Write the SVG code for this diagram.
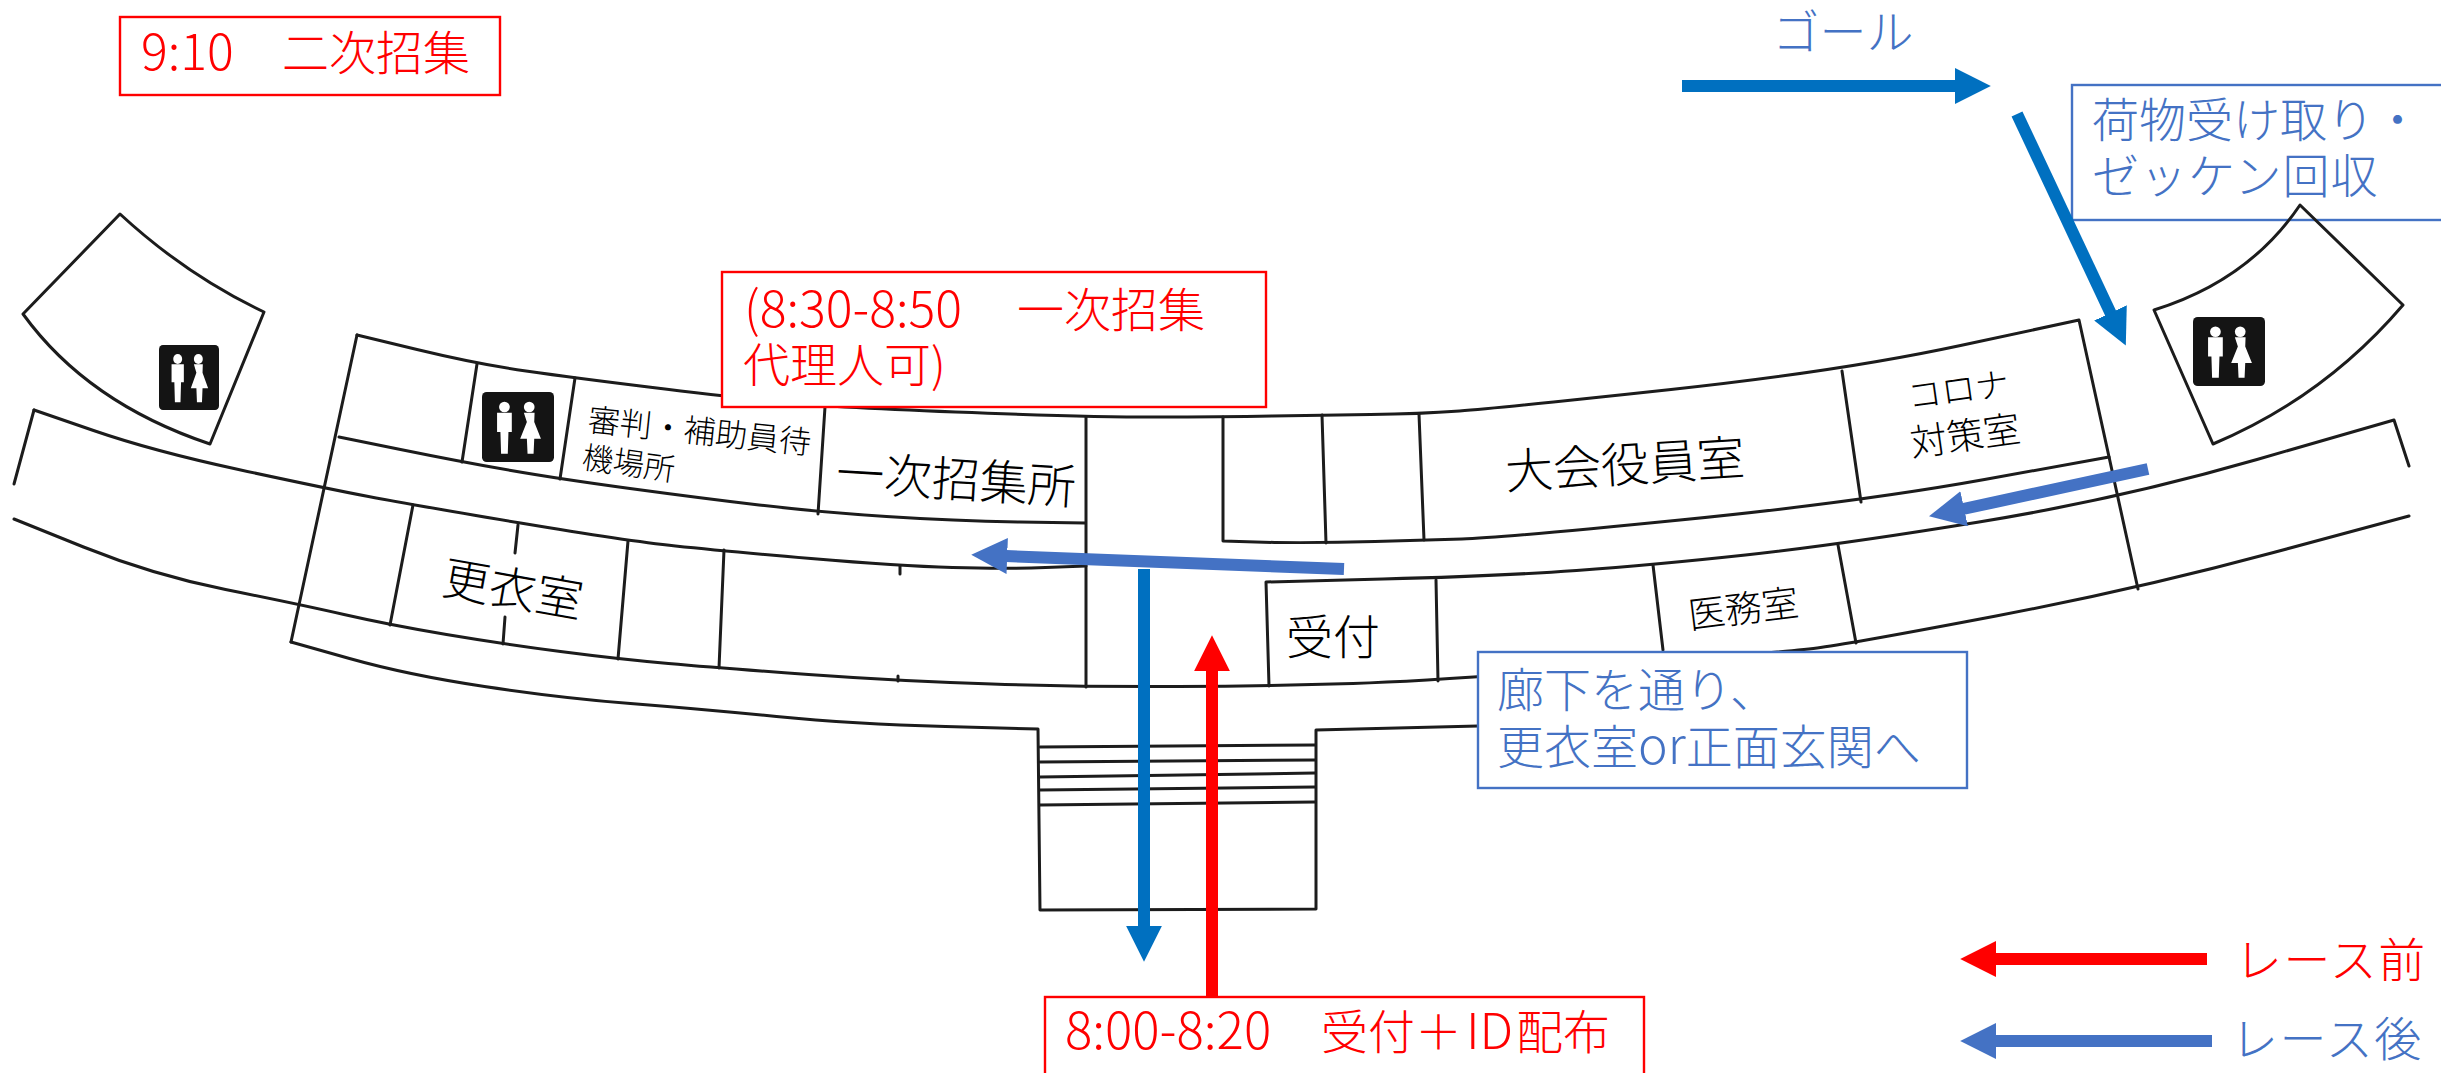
<svg xmlns="http://www.w3.org/2000/svg" width="2441" height="1073" viewBox="0 0 2441 1073">
<style>
text{font-family:"Noto Sans CJK JP","Noto Sans",sans-serif;font-weight:300;font-size:47px}
.w{fill:none;stroke:#1c1c1c;stroke-width:3;stroke-linejoin:round;stroke-linecap:round}
.k{fill:#000}.m{text-anchor:middle}
.r{fill:#f00}.b{fill:#4472c4}
.br{fill:#fff;stroke:#f00;stroke-width:2.4}
.bb{fill:#fff;stroke:#4472c4;stroke-width:2.4}
.a{stroke-width:12;fill:none}
.d{font-size:50px}
</style>
<defs>
<marker id="hr" markerWidth="3" markerHeight="3" refX="0.1" refY="1.5" orient="auto" markerUnits="strokeWidth"><path d="M0 0L3 1.5L0 3Z" fill="#f00"/></marker>
<marker id="hb" markerWidth="3" markerHeight="3" refX="0.1" refY="1.5" orient="auto" markerUnits="strokeWidth"><path d="M0 0L3 1.5L0 3Z" fill="#4472c4"/></marker>
<marker id="hd" markerWidth="3" markerHeight="3" refX="0.1" refY="1.5" orient="auto" markerUnits="strokeWidth"><path d="M0 0L3 1.5L0 3Z" fill="#0070c0"/></marker>
<symbol id="wc" viewBox="0 0 215 210" preserveAspectRatio="none">
<rect width="215" height="210" rx="14" fill="#141414"/>
<g fill="#fff"><circle cx="67" cy="45" r="16"/><circle cx="141" cy="45" r="16"/>
<path d="M45 62h44v58h-10l-2 65h-20l-2-65h-10z"/>
<path d="M125 62h32l-1 28l20 50h-20l-2 45h-18l-2-45h-20l20-50z"/></g>
</symbol>
</defs>

<g id="floorplan">
<path class="w" d="M34 410L14 484"/>
<path class="w" d="M34 410L93.500 430.500Q153 451 238.500 469.500Q324 488 368.500 496.500Q413 505 520.500 523Q628 541 675.500 546Q723 551 811 558.500Q899 566 952.500 567.500Q1006 569 1045.500 567.500L1086 566"/>
<path class="w" d="M14 519L83.500 547Q153 575 225.500 589.500Q298 604 344 614.500Q390 625 446.500 634.500Q503 644 560.500 651.500Q618 659 668.500 663.500Q719 668 808.500 674.500Q898 681 992 684Q1086 687 1177.500 686.500Q1269 686 1353 683.500Q1437 681 1612 666.500Q1787 652 1820.500 647.500Q1854 643 1996 616Q2138 589 2273.500 552.500L2409 516"/>
<path class="w" d="M291 642L349.500 658.500Q408 675 484.500 686.500Q561 698 630.500 703.500Q700 709 776.500 716.500Q853 724 945.500 726.500L1038 729L1040 910L1316 909L1316 730L1478 726"/>
<path class="w" d="M357 335L417 349.500Q477 364 526 371Q575 378 648.500 387Q722 396 773.500 401.500Q825 407 955.500 412Q1086 417 1154.500 417Q1223 417 1272.500 416Q1322 415 1370.500 414.500Q1419 414 1459.500 411Q1500 408 1671 389.500Q1842 371 1960.500 345.500L2079 320L2138 589"/>
<path class="w" d="M339 437L400.500 449.500Q462 462 511 470.500Q560 479 630 488.500Q700 498 759 505Q818 512 886.500 516.500Q955 521 1020 522L1085 523"/>
<path class="w" d="M1223 417L1223 541L1274.500 542.500Q1326 543 1375 541.500Q1424 540 1462 539Q1500 538 1680 520Q1860 502 1984.500 479.500L2109 457"/>
<path class="w" d="M1269 686L1266 582L1383 579Q1500 576 1576.500 570.500Q1653 565 1745.500 555Q1838 545 1979 522Q2120 499 2257 459.500L2394 420L2409 466"/>
<path class="w" d="M357 335L291 642M477 364L462 462M575 378L560 479M825 407L818 514M1086 417L1086 687M413 505L390 625M518 525L515 553M505 617L503 644M628 541L618 659M724 550L719 668M900 566L900 574M898 676L898 681M1322 415L1326 543M1419 414L1424 540M1842 371L1861 502M1436 580L1438 681M1653 565L1663 650M1838 545L1856 643"/>
<path class="w" d="M1040 747L1315 745M1040 762L1315 760M1040 777L1315 773M1040 790L1315 787M1040 805L1315 802"/>
</g>

<g id="box-second-call"><rect class="br" x="120" y="17" width="380" height="78"/><text class="r" y="70"><tspan class="d" x="141">9:10</tspan><tspan x="235">　</tspan><tspan x="282">二次招集</tspan></text></g>
<g id="box-first-call"><rect class="br" x="722" y="272" width="544" height="135"/><text class="r" y="327"><tspan class="d" x="744">(8:30-8:50</tspan><tspan x="970">　</tspan><tspan x="1017">一次招集</tspan></text><text class="r" x="743" y="382">代理人可)</text></g>
<g id="box-reception"><rect class="br" x="1045" y="997" width="599" height="90"/><text class="r" y="1049"><tspan class="d" style="font-size:51px" x="1065">8:00-8:20</tspan><tspan x="1274">　</tspan><tspan x="1321">受付＋</tspan><tspan class="d" x="1466">ID</tspan><tspan x="1516">配布</tspan></text></g>
<g id="box-corridor"><rect class="bb" x="1478" y="652" width="489" height="136"/><text class="b" x="1497" y="707">廊下を通り、</text><text class="b" x="1497" y="764"><tspan>更衣室</tspan><tspan class="d">or</tspan><tspan>正面玄関へ</tspan></text></g>
<g id="box-baggage"><rect class="bb" x="2072" y="85" width="400" height="135"/><text class="b" x="2092" y="137">荷物受け取り・</text><text class="b" x="2092" y="193" style="letter-spacing:1px">ゼッケン回収</text></g>

<g id="restroom-left"><path class="w" d="M120 214Q186 275 264 312L210 444Q87.500 403 23 314Z"/><use href="#wc" x="159" y="345" width="60" height="65"/></g>
<g id="restroom-right"><path class="w" d="M2154 310Q2249 280.500 2300 205L2403 305Q2324 397.500 2213 444Z"/><use href="#wc" x="2193" y="317" width="72" height="69"/></g>
<g id="restroom-center"><use href="#wc" x="482" y="392" width="72" height="70"/></g>

<g id="label-kouishitsu"><text class="k m" transform="translate(510 606) rotate(10)">更衣室</text></g>
<g id="label-shinpan"><text class="k" style="font-size:32px" transform="translate(587 431) rotate(6)">審判・補助員待</text><text class="k" style="font-size:31px" transform="translate(581 468) rotate(8)">機場所</text></g>
<g id="label-ichiji"><text class="k m" style="font-size:48px" transform="translate(955 497) rotate(3.500)">一次招集所</text></g>
<g id="label-taikai"><text class="k m" style="font-size:48px" transform="translate(1626 482) rotate(-3.500)">大会役員室</text></g>
<g id="label-corona"><text class="k m" style="font-size:34px" transform="translate(1960 402) rotate(-8)">コロナ</text><text class="k m" style="font-size:37px" transform="translate(1967 449) rotate(-8)">対策室</text></g>
<g id="label-imushitsu"><text class="k m" style="font-size:37px" transform="translate(1745 622) rotate(-7)">医務室</text></g>
<g id="label-uketsuke"><text class="k m" x="1333" y="654">受付</text></g>
<g id="label-goal"><text class="b m" x="1843" y="49">ゴール</text></g>
<g id="legend-before"><text class="r" x="2235" y="977" style="letter-spacing:1.500px">レース前</text></g>
<g id="legend-after"><text class="b" x="2231" y="1056" style="letter-spacing:1.500px">レース後</text></g>

<g id="connectors">
<path class="a" stroke="#0070c0" marker-end="url(#hd)" d="M1682 86H1956"/>
<path class="a" stroke="#0070c0" marker-end="url(#hd)" d="M2017 114L2111 314"/>
<path class="a" stroke="#4472c4" marker-end="url(#hb)" d="M2148 469L1963 509"/>
<path class="a" stroke="#4472c4" marker-end="url(#hb)" d="M1344 569L1006 556"/>
<path class="a" stroke="#0070c0" marker-end="url(#hd)" d="M1144 569V927"/>
<path class="a" stroke="#f00" marker-end="url(#hr)" d="M1212 997V670"/>
<path class="a" stroke="#f00" marker-end="url(#hr)" d="M2207 959H1995"/>
<path class="a" stroke="#4472c4" marker-end="url(#hb)" d="M2212 1041H1995"/>
</g>
</svg>
